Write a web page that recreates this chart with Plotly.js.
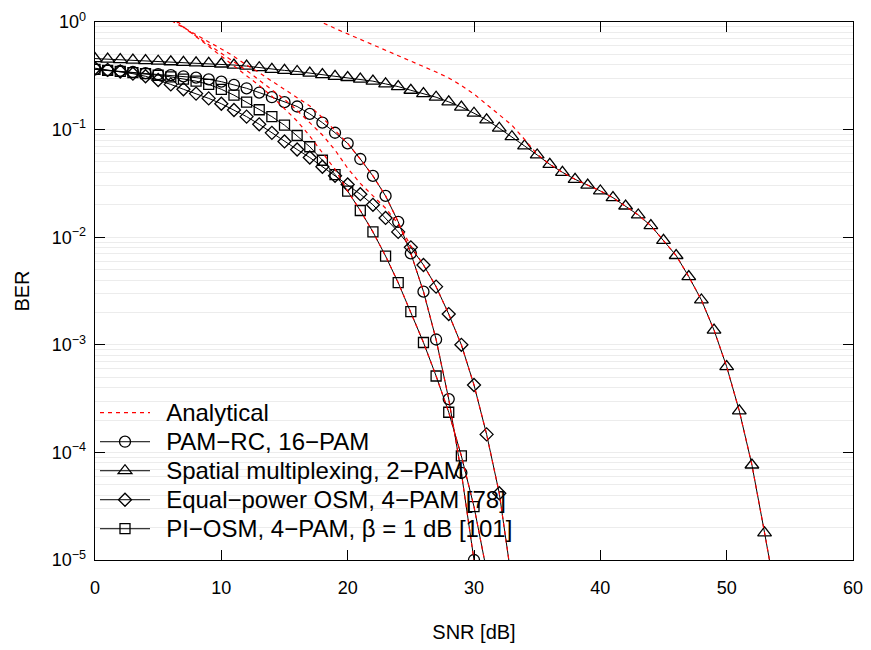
<!DOCTYPE html>
<html>
<head>
<meta charset="utf-8">
<script src="https://cdn.plot.ly/plotly-3.0.1.min.js"></script>
<style>html,body{margin:0;padding:0;background:#fff;}#chart{width:871px;height:650px;}</style>
</head>
<body>
<div id="chart"></div>
<script>
// ---- Simulated results (SNR in dB, BER) ----
const snrPamRc = [0,1,2,3,4,5,6,7,8,9,10,11,12,13,14,15,16,17,18,19,20,21,22,23,24,25,26,27,28,29,30];
const berPamRc = [0.363,0.355,0.351,0.343,0.335,0.327,0.321,0.313,0.304,0.293,0.279,0.260,0.242,0.221,0.200,0.180,0.164,0.140,0.116,0.0935,0.0745,0.0533,0.0371,0.0242,0.0139,0.00708,0.00312,0.00112,3.13e-4,6.46e-5,1.0e-5];

const snrSm = [0,1,2,3,4,5,6,7,8,9,10,11,12,13,14,15,16,17,18,19,20,21,22,23,24,25,26,27,28,29,30,31,32,33,34,35,36,37,38,39,40,41,42,43,44,45,46,47,48,49,50,51,52,53,54];
const berSm = [0.457,0.452,0.447,0.442,0.437,0.432,0.427,0.422,0.417,0.412,0.407,0.398,0.389,0.376,0.363,0.355,0.347,0.335,0.324,0.313,0.305,0.295,0.282,0.266,0.251,0.232,0.216,0.200,0.181,0.162,0.142,0.123,0.103,0.0859,0.0705,0.0581,0.0475,0.0401,0.0345,0.0305,0.0269,0.0233,0.0195,0.0161,0.0128,0.00933,0.00676,0.00430,0.00261,0.00137,6.27e-4,2.43e-4,7.64e-5,1.79e-5,3.98e-6];

const snrEpOsm = [0,1,2,3,4,5,6,7,8,9,10,11,12,13,14,15,16,17,18,19,20,21,22,23,24,25,26,27,28,29,30,31,32,33];
const berEpOsm = [0.372,0.359,0.347,0.331,0.313,0.289,0.263,0.237,0.216,0.195,0.174,0.152,0.132,0.112,0.0933,0.0776,0.0653,0.0550,0.0452,0.0372,0.0309,0.0251,0.0200,0.0151,0.0112,0.00805,0.00552,0.00347,0.00193,0.00100,4.23e-4,1.47e-4,4.17e-5,6.3e-6];

const snrPiOsm = [0,1,2,3,4,5,6,7,8,9,10,11,12,13,14,15,16,17,18,19,20,21,22,23,24,25,26,27,28,29,30,31];
const berPiOsm = [0.363,0.355,0.347,0.339,0.331,0.320,0.309,0.295,0.282,0.263,0.237,0.209,0.180,0.153,0.132,0.110,0.0881,0.0693,0.0519,0.0382,0.0268,0.0177,0.0112,0.00668,0.00378,0.00203,0.00105,5.13e-4,2.36e-4,9.27e-5,3.13e-5,7.9e-6];

// ---- Analytical curves: low-SNR part, then they coincide with the simulated points ----
const anaSnrPamRcHead = [5.5,6,7,8,9,10,11,12,13,14,15,16,17,18,19];
const anaBerPamRcHead = [1.12,1.035,0.881,0.759,0.653,0.562,0.479,0.398,0.339,0.282,0.237,0.200,0.166,0.129,0.0977];
const anaPamRcFrom = 20;

const anaSnrSmHead = [17,18,19,20,21,22,23,24,25,26,27,28,29,30,31,32,33,34,35];
const anaBerSmHead = [1.15,0.989,0.871,0.776,0.684,0.610,0.550,0.490,0.437,0.389,0.343,0.302,0.257,0.214,0.172,0.138,0.110,0.0813,0.0589];
const anaSmFrom = 36;

const anaSnrEpOsmHead = [5.8,6.3,7,8,9,10,11,12,13,14,15,16,17,18,19,20,21,22,23,24,25];
const anaBerEpOsmHead = [1.12,1.047,0.891,0.741,0.617,0.513,0.427,0.355,0.288,0.234,0.191,0.151,0.117,0.0891,0.0646,0.0437,0.0316,0.0245,0.0186,0.0133,0.00832];
const anaEpOsmFrom = 26;

const anaSnrPiOsmHead = [6,6.5,7,8,9,10,11,12,13,14,15,16,17,18,19];
const anaBerPiOsmHead = [1.12,1.02,0.902,0.733,0.596,0.484,0.394,0.320,0.257,0.204,0.158,0.120,0.0871,0.0617,0.0427];
const anaPiOsmFrom = 20;

// ---- Labels ----
const legendNames = ['Analytical','PAM\u2212RC, 16\u2212PAM','Spatial multiplexing, 2\u2212PAM','Equal\u2212power OSM, 4\u2212PAM [78]','PI\u2212OSM, 4\u2212PAM, \u03B2 = 1 dB [101]'];
const xTicks = [0,10,20,30,40,50,60];
const yTickVals = [1e-5,1e-4,1e-3,1e-2,1e-1,1];
const yTickText = ['10<sup>\u22125</sup>','10<sup>\u22124</sup>','10<sup>\u22123</sup>','10<sup>\u22122</sup>','10<sup>\u22121</sup>','10<sup>0</sup>'];

function tail(snr, ber, from) {
  const i = snr.indexOf(from);
  return {x: snr.slice(i), y: ber.slice(i)};
}
function ana(hx, hy, snr, ber, from) {
  const t = tail(snr, ber, from);
  return {x: hx.concat(t.x), y: hy.concat(t.y)};
}
function legendLabel(s) {
  return '\u00a0\u00a0<span style="font-size:24px">' + s + '</span>';
}

const FONT = 'Liberation Sans, Arial, Helvetica, sans-serif';
const sims = [
  {x: snrPamRc, y: berPamRc, sym: 'circle-open', size: 11, name: legendNames[1], rank: 2},
  {x: snrSm, y: berSm, sym: 'triangle-up-open', size: 12, name: legendNames[2], rank: 3},
  {x: snrEpOsm, y: berEpOsm, sym: 'diamond-open', size: 10, name: legendNames[3], rank: 4},
  {x: snrPiOsm, y: berPiOsm, sym: 'square-open', size: 10, name: legendNames[4], rank: 5}
];
const traces = sims.map(s => ({
  type: 'scatter', mode: 'lines+markers', x: s.x, y: s.y, name: legendLabel(s.name), legendrank: s.rank,
  line: {color: 'black', width: 1},
  marker: {symbol: s.sym, size: s.size, color: 'black', line: {color: 'black', width: 1.3}},
  cliponaxis: true
}));
const anas = [
  ana(anaSnrPamRcHead, anaBerPamRcHead, snrPamRc, berPamRc, anaPamRcFrom),
  ana(anaSnrSmHead, anaBerSmHead, snrSm, berSm, anaSmFrom),
  ana(anaSnrEpOsmHead, anaBerEpOsmHead, snrEpOsm, berEpOsm, anaEpOsmFrom),
  ana(anaSnrPiOsmHead, anaBerPiOsmHead, snrPiOsm, berPiOsm, anaPiOsmFrom)
];
anas.forEach((a, k) => traces.push({
  type: 'scatter', mode: 'lines', x: a.x, y: a.y, name: legendLabel(legendNames[0]),
  showlegend: k === 0, legendrank: 1,
  line: {color: '#ff0000', width: 1.2, dash: '4px,4px'}
}));

const layout = {
  width: 871, height: 650,
  margin: {l: 95, r: 18, t: 22, b: 90},
  paper_bgcolor: 'white', plot_bgcolor: 'white',
  font: {family: FONT, color: 'black', size: 18},
  showlegend: true,
  legend: {x: 0.0, y: 0.31, xanchor: 'left', yanchor: 'top', bgcolor: 'rgba(0,0,0,0)',
           borderwidth: 0, font: {family: FONT, size: 20, color: 'black'}, itemwidth: 50,
           tracegroupgap: 0},
  xaxis: {range: [0, 60], tickvals: xTicks, ticks: 'inside', ticklen: 10, tickcolor: 'black',
          showline: true, linecolor: 'black', linewidth: 1.3, mirror: 'ticks',
          showgrid: false, zeroline: false, tickfont: {size: 18, family: FONT},
          ticklabelstandoff: 11,
          title: {text: 'SNR [dB]', font: {size: 20, family: FONT}, standoff: 28}},
  yaxis: {type: 'log', range: [-5, 0], tickmode: 'array', tickvals: yTickVals, ticktext: yTickText,
          ticks: 'inside', ticklen: 10, tickcolor: 'black',
          showline: true, linecolor: 'black', linewidth: 1.3, mirror: 'ticks',
          showgrid: true, gridcolor: '#ececec', gridwidth: 1, zeroline: false,
          minor: {dtick: 'D1', showgrid: true, gridcolor: '#ececec', gridwidth: 1, ticks: ''},
          tickfont: {size: 18, family: FONT}, ticklabelstandoff: 4,
          title: {text: 'BER', font: {size: 20, family: FONT}, standoff: 16}}
};
Plotly.newPlot('chart', traces, layout, {displayModeBar: false, staticPlot: true});
</script>
</body>
</html>
